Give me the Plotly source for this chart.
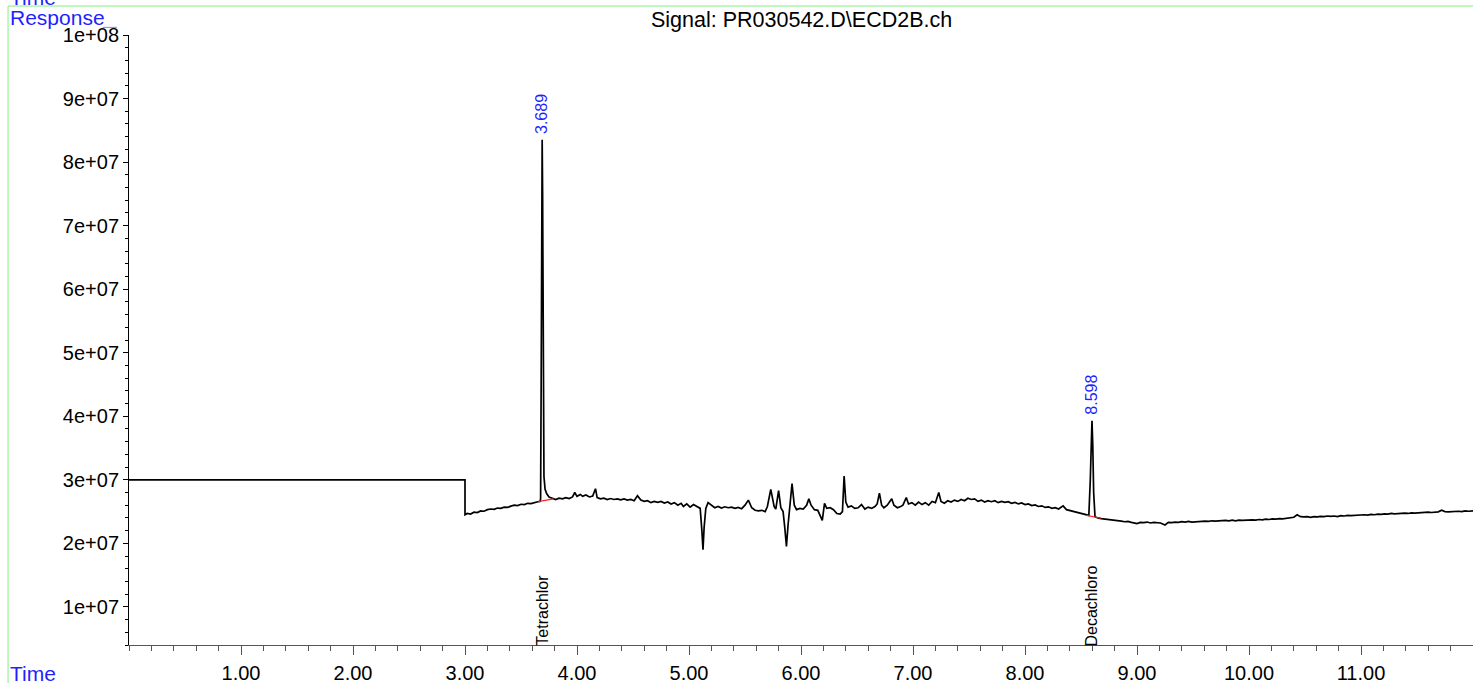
import plotly.graph_objects as go

# ---------------- data ----------------
time_min = [
    0.00, 3.00, 3.00, 3.02, 3.05, 3.08, 3.11, 3.14, 3.17, 3.20, 3.23, 3.26, 3.29, 3.32, 3.35, 3.38,
    3.41, 3.44, 3.47, 3.50, 3.53, 3.56, 3.59, 3.62, 3.65, 3.67, 3.675, 3.680, 3.685, 3.689, 3.693,
    3.698, 3.705, 3.715, 3.73, 3.75, 3.78, 3.81, 3.84, 3.87, 3.90, 3.93, 3.96, 3.98, 4.00, 4.03,
    4.05, 4.08, 4.11, 4.14, 4.165, 4.18, 4.21, 4.24, 4.27, 4.30, 4.33, 4.36, 4.39, 4.42, 4.45,
    4.48, 4.51, 4.54, 4.57, 4.60, 4.63, 4.66, 4.69, 4.72, 4.75, 4.78, 4.81, 4.84, 4.87, 4.90,
    4.93, 4.95, 4.98, 5.01, 5.04, 5.07, 5.10, 5.115, 5.125, 5.135, 5.15, 5.17, 5.20, 5.23, 5.26,
    5.29, 5.32, 5.35, 5.38, 5.41, 5.44, 5.47, 5.50, 5.53, 5.56, 5.59, 5.62, 5.65, 5.68, 5.70,
    5.73, 5.76, 5.775, 5.80, 5.82, 5.84, 5.855, 5.87, 5.885, 5.90, 5.92, 5.94, 5.96, 5.99, 6.02,
    6.05, 6.07, 6.09, 6.12, 6.15, 6.17, 6.19, 6.21, 6.23, 6.26, 6.29, 6.32, 6.35, 6.37, 6.385,
    6.40, 6.42, 6.45, 6.48, 6.51, 6.54, 6.57, 6.60, 6.63, 6.66, 6.68, 6.70, 6.72, 6.74, 6.77,
    6.80, 6.81, 6.83, 6.86, 6.89, 6.91, 6.94, 6.96, 6.99, 7.02, 7.05, 7.08, 7.11, 7.14, 7.17,
    7.20, 7.23, 7.25, 7.28, 7.31, 7.34, 7.37, 7.40, 7.43, 7.46, 7.49, 7.52, 7.55, 7.58, 7.61,
    7.64, 7.67, 7.70, 7.73, 7.76, 7.79, 7.82, 7.85, 7.88, 7.91, 7.94, 7.97, 8.00, 8.03, 8.06,
    8.09, 8.12, 8.15, 8.18, 8.21, 8.24, 8.27, 8.30, 8.34, 8.37, 8.40, 8.43, 8.46, 8.49, 8.52,
    8.55, 8.57, 8.583, 8.592, 8.598, 8.605, 8.613, 8.625, 8.65, 8.68, 8.71, 8.74, 8.77, 8.80,
    8.83, 8.86, 8.89, 8.92, 8.95, 8.98, 9.00, 9.03, 9.06, 9.09, 9.12, 9.15, 9.18, 9.21, 9.25,
    9.28, 9.31, 9.34, 9.37, 9.40, 9.43, 9.46, 9.49, 9.52, 9.55, 9.58, 9.61, 9.64, 9.67, 9.70,
    9.73, 9.76, 9.79, 9.82, 9.85, 9.88, 9.91, 9.94, 9.97, 10.00, 10.03, 10.06, 10.09, 10.12,
    10.15, 10.18, 10.21, 10.24, 10.27, 10.30, 10.33, 10.36, 10.40, 10.43, 10.46, 10.49, 10.52,
    10.55, 10.58, 10.61, 10.64, 10.67, 10.70, 10.73, 10.76, 10.79, 10.82, 10.85, 10.88, 10.91,
    10.94, 10.97, 11.00, 11.03, 11.06, 11.09, 11.12, 11.15, 11.18, 11.21, 11.24, 11.27, 11.30,
    11.33, 11.36, 11.39, 11.42, 11.45, 11.48, 11.51, 11.54, 11.57, 11.60, 11.63, 11.66, 11.69,
    11.72, 11.75, 11.78, 11.81, 11.84, 11.87, 11.90, 11.93, 11.96, 12.00,
]

response = [
    3.00e7, 3.00e7, 2.450e7, 2.470e7, 2.460e7, 2.490e7, 2.485e7, 2.510e7, 2.505e7, 2.530e7, 2.540e7, 2.535e7, 2.555e7, 2.550e7, 2.570e7, 2.565e7,
    2.585e7, 2.600e7, 2.595e7, 2.615e7, 2.610e7, 2.630e7, 2.625e7, 2.645e7, 2.655e7, 2.660e7, 2.700e7, 4.50e7, 7.80e7, 8.35e7, 7.50e7,
    4.00e7, 3.05e7, 2.850e7, 2.780e7, 2.730e7, 2.710e7, 2.690e7, 2.710e7, 2.700e7, 2.720e7, 2.705e7, 2.730e7, 2.800e7, 2.740e7, 2.770e7,
    2.740e7, 2.760e7, 2.730e7, 2.745e7, 2.860e7, 2.720e7, 2.700e7, 2.710e7, 2.690e7, 2.705e7, 2.690e7, 2.700e7, 2.685e7, 2.700e7, 2.680e7,
    2.690e7, 2.670e7, 2.750e7, 2.680e7, 2.660e7, 2.670e7, 2.640e7, 2.660e7, 2.645e7, 2.660e7, 2.635e7, 2.650e7, 2.620e7, 2.640e7, 2.600e7,
    2.630e7, 2.580e7, 2.620e7, 2.570e7, 2.610e7, 2.580e7, 2.550e7, 2.200e7, 1.900e7, 2.250e7, 2.550e7, 2.640e7, 2.600e7, 2.560e7, 2.580e7,
    2.555e7, 2.575e7, 2.560e7, 2.570e7, 2.550e7, 2.565e7, 2.545e7, 2.600e7, 2.680e7, 2.560e7, 2.520e7, 2.510e7, 2.520e7, 2.500e7, 2.580e7,
    2.850e7, 2.580e7, 2.540e7, 2.830e7, 2.560e7, 2.500e7, 2.250e7, 1.950e7, 2.300e7, 2.580e7, 2.940e7, 2.600e7, 2.530e7, 2.550e7, 2.540e7,
    2.600e7, 2.700e7, 2.600e7, 2.530e7, 2.520e7, 2.450e7, 2.360e7, 2.630e7, 2.550e7, 2.560e7, 2.530e7, 2.470e7, 2.460e7, 2.500e7, 3.060e7,
    2.650e7, 2.570e7, 2.590e7, 2.550e7, 2.560e7, 2.610e7, 2.540e7, 2.570e7, 2.550e7, 2.580e7, 2.620e7, 2.790e7, 2.600e7, 2.560e7, 2.600e7,
    2.680e7, 2.700e7, 2.600e7, 2.560e7, 2.580e7, 2.600e7, 2.720e7, 2.620e7, 2.640e7, 2.600e7, 2.650e7, 2.610e7, 2.640e7, 2.600e7, 2.660e7,
    2.640e7, 2.800e7, 2.660e7, 2.630e7, 2.670e7, 2.650e7, 2.680e7, 2.660e7, 2.690e7, 2.670e7, 2.710e7, 2.690e7, 2.700e7, 2.660e7, 2.680e7,
    2.650e7, 2.670e7, 2.655e7, 2.670e7, 2.640e7, 2.660e7, 2.645e7, 2.655e7, 2.630e7, 2.645e7, 2.620e7, 2.635e7, 2.610e7, 2.620e7, 2.595e7,
    2.605e7, 2.580e7, 2.590e7, 2.565e7, 2.575e7, 2.550e7, 2.560e7, 2.540e7, 2.590e7, 2.530e7, 2.515e7, 2.500e7, 2.485e7, 2.470e7, 2.455e7,
    2.440e7, 2.440e7, 3.00e7, 3.75e7, 3.93e7, 3.55e7, 2.80e7, 2.420e7, 2.400e7, 2.390e7, 2.385e7, 2.370e7, 2.375e7, 2.360e7,
    2.355e7, 2.350e7, 2.340e7, 2.345e7, 2.330e7, 2.320e7, 2.310e7, 2.330e7, 2.325e7, 2.335e7, 2.320e7, 2.330e7, 2.325e7, 2.320e7, 2.290e7,
    2.330e7, 2.325e7, 2.335e7, 2.330e7, 2.340e7, 2.335e7, 2.345e7, 2.335e7, 2.340e7, 2.345e7, 2.340e7, 2.350e7, 2.345e7, 2.355e7, 2.350e7,
    2.355e7, 2.350e7, 2.360e7, 2.355e7, 2.365e7, 2.355e7, 2.365e7, 2.360e7, 2.365e7, 2.360e7, 2.370e7, 2.365e7, 2.375e7, 2.370e7,
    2.380e7, 2.375e7, 2.385e7, 2.380e7, 2.390e7, 2.385e7, 2.390e7, 2.395e7, 2.410e7, 2.450e7, 2.420e7, 2.415e7, 2.420e7,
    2.410e7, 2.420e7, 2.415e7, 2.425e7, 2.420e7, 2.430e7, 2.425e7, 2.430e7, 2.420e7, 2.435e7, 2.430e7, 2.440e7, 2.435e7,
    2.440e7, 2.445e7, 2.440e7, 2.450e7, 2.445e7, 2.455e7, 2.450e7, 2.460e7, 2.455e7, 2.465e7, 2.460e7, 2.470e7, 2.465e7,
    2.470e7, 2.465e7, 2.475e7, 2.470e7, 2.480e7, 2.475e7, 2.480e7, 2.485e7, 2.480e7, 2.490e7, 2.485e7, 2.490e7, 2.495e7,
    2.520e7, 2.500e7, 2.495e7, 2.500e7, 2.495e7, 2.505e7, 2.500e7, 2.510e7, 2.505e7, 2.510e7,
]

# integrated peaks
peak_rt = [3.689, 8.598]
peak_height = [8.35e7, 3.93e7]
compound_names = ["Tetrachlor", "Decachloro"]

# integration baselines (red)
baseline_t = [[3.655, 3.79], [8.55, 8.68]]
baseline_v = [[2.655e7, 2.700e7], [2.440e7, 2.395e7]]

# axes
x_tick_vals = [1, 2, 3, 4, 5, 6, 7, 8, 9, 10, 11]
x_tick_text = ["1.00", "2.00", "3.00", "4.00", "5.00", "6.00", "7.00", "8.00", "9.00", "10.00", "11.00"]
y_tick_vals = [1e7, 2e7, 3e7, 4e7, 5e7, 6e7, 7e7, 8e7, 9e7, 1e8]
y_tick_text = ["1e+07", "2e+07", "3e+07", "4e+07", "5e+07", "6e+07", "7e+07", "8e+07", "9e+07", "1e+08"]

title_text = "Signal: PR030542.D\\ECD2B.ch"

# ---------------- figure ----------------
FONT = "Liberation Sans, Arial, sans-serif"
BLUE = "#1f1fff"
GREEN = "#80f080"

fig = go.Figure()

fig.add_trace(go.Scatter(
    x=time_min, y=response, mode="lines",
    line=dict(color="black", width=1.7),
    showlegend=False, hoverinfo="skip",
))

for bt, bv in zip(baseline_t, baseline_v):
    fig.add_trace(go.Scatter(
        x=bt, y=bv, mode="lines",
        line=dict(color="#ff2020", width=1.2),
        showlegend=False, hoverinfo="skip",
    ))

annotations = []
for rt, h, name in zip(peak_rt, peak_height, compound_names):
    annotations.append(dict(
        x=rt, y=h, xref="x", yref="y", text=f"{rt:.3f}", textangle=-90,
        showarrow=False, xanchor="center", yanchor="bottom", yshift=4,
        font=dict(family=FONT, size=16, color=BLUE),
    ))
    annotations.append(dict(
        x=rt, y=0, xref="x", yref="paper", text=name, textangle=-90,
        showarrow=False, xanchor="center", yanchor="bottom", yshift=-3,
        font=dict(family=FONT, size=16, color="black"),
    ))

annotations += [
    dict(x=0.5, y=1, xref="paper", yref="paper", text=title_text, showarrow=False,
         xanchor="center", yanchor="bottom", yshift=1,
         font=dict(family=FONT, size=21.5, color="black")),
    dict(x=-0.0900, y=1.0285, xref="paper", yref="paper", text="Response", showarrow=False,
         xanchor="left", yanchor="middle",
         font=dict(family=FONT, size=21, color=BLUE)),
    dict(x=-0.0900, y=-0.0460, xref="paper", yref="paper", text="Time", showarrow=False,
         xanchor="left", yanchor="middle",
         font=dict(family=FONT, size=21, color=BLUE)),
    dict(x=-0.0900, y=1.0620, xref="paper", yref="paper", text="Time", showarrow=False,
         xanchor="left", yanchor="middle",
         font=dict(family=FONT, size=21, color=BLUE)),
]

shapes = [
    dict(type="line", xref="paper", yref="paper", x0=-0.0900, x1=1.0, y0=1.0475, y1=1.0475,
         line=dict(color=GREEN, width=1)),
    dict(type="line", xref="paper", yref="paper", x0=-0.0900, x1=-0.0900, y0=1.0475, y1=-0.07,
         line=dict(color=GREEN, width=1)),
    dict(type="line", xref="paper", yref="paper", x0=-0.0195, x1=-0.0090, y0=1.0125, y1=1.0125,
         line=dict(color="#8080ff", width=1)),
]

fig.update_layout(
    width=1473, height=683,
    margin=dict(l=129, r=0, t=35, b=38),
    paper_bgcolor="white", plot_bgcolor="white",
    font=dict(family=FONT, size=20, color="black"),
    annotations=annotations, shapes=shapes,
    showlegend=False,
)

fig.update_xaxes(
    range=[0, 12], showgrid=False, zeroline=False, automargin=False,
    showline=True, linecolor="#555555", linewidth=1,
    tickmode="array", tickvals=x_tick_vals, ticktext=x_tick_text,
    ticks="outside", ticklen=9, tickcolor="#555555", tickwidth=1,
    ticklabelstandoff=1,
    tickfont=dict(family=FONT, size=20, color="black"),
    minor=dict(tickmode="linear", tick0=0, dtick=0.2, ticks="outside", ticklen=5,
               tickcolor="#555555", tickwidth=1, showgrid=False),
)
fig.update_yaxes(
    range=[4.0e6, 1.0e8], showgrid=False, zeroline=False, automargin=False,
    showline=True, linecolor="black", linewidth=1,
    tickmode="array", tickvals=y_tick_vals, ticktext=y_tick_text,
    ticks="outside", ticklen=5, tickcolor="black", tickwidth=1,
    tickfont=dict(family=FONT, size=20, color="black"),
    minor=dict(tickmode="linear", tick0=0, dtick=2e6, ticks="outside", ticklen=3,
               tickcolor="black", tickwidth=1, showgrid=False),
)

fig.write_html(
    "out.html",
    config={"displayModeBar": False},
    post_script="document.body.style.margin='0';document.body.style.overflow='hidden';",
)
